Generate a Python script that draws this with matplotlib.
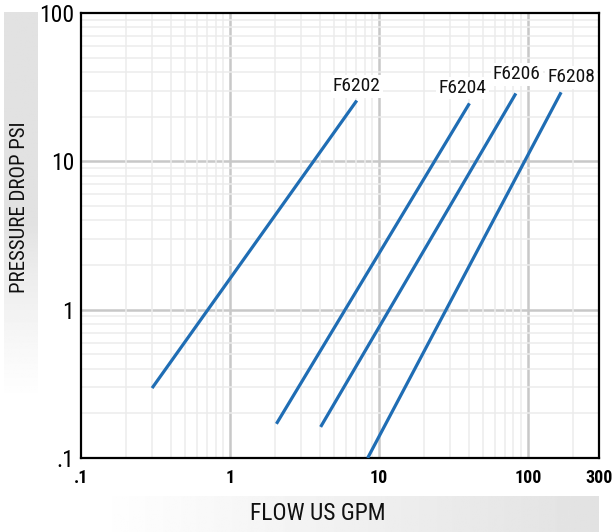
import numpy as np
import matplotlib.pyplot as plt
from matplotlib.ticker import LogLocator, NullFormatter

plt.rcParams['font.family'] = ['Roboto Condensed', 'DejaVu Sans']
plt.rcParams['font.stretch'] = 'condensed'

# series: flow (gpm) vs pressure drop (psi), end points
models = ["F6202", "F6204", "F6206", "F6208"]
flow_start = [0.30, 2.05, 4.06, 8.4]
flow_end = [7.1, 40.5, 83, 167]
psi_start = [0.296, 0.17, 0.162, 0.1]
psi_end = [25.7, 24.6, 28.7, 29.2]

# label positions (data coords)
label_x = [7.1, 36.4, 84, 195]
label_y = [32, 31.3, 38.5, 36.8]

x_ticks = [0.1, 1, 10, 100, 300]
x_tick_labels = [".1", "1", "10", "100", "300"]
y_ticks = [0.1, 1, 10, 100]
y_tick_labels = [".1", "1", "10", "100"]

LINE = "#1f6db4"

fig = plt.figure(figsize=(6.14, 5.32), dpi=100)

# gray gradient band behind y label
band_y = fig.add_axes([4/614, 1 - 400/532, 33/614, 388/532])
t = np.linspace(0, 1, 256)
grad = (0.885 + 0.115 * np.clip((t - 0.55) / 0.45, 0, 1) ** 0.8).reshape(-1, 1)
band_y.imshow(grad, cmap="gray", vmin=0, vmax=1, aspect="auto")
band_y.axis("off")

# gray gradient band behind x label
band_x = fig.add_axes([95/614, 0, 504/614, 36/532])
grad2 = (1.0 - 0.115 * t).reshape(1, -1)
band_x.imshow(grad2, cmap="gray", vmin=0, vmax=1, aspect="auto")
band_x.axis("off")

ax = fig.add_axes([81/614, 74/532, 518/614, 445/532])
ax.set_xscale("log")
ax.set_yscale("log")
ax.set_xlim(0.1, 300)
ax.set_ylim(0.1, 100)

for i in range(len(models)):
    ax.plot([flow_start[i], flow_end[i]], [psi_start[i], psi_end[i]],
            color=LINE, lw=2.3, solid_capstyle="butt", zorder=3)
    ax.text(label_x[i], label_y[i], models[i], ha="center", va="center",
            fontsize=14, color="#111111", zorder=4,
            bbox=dict(facecolor="white", edgecolor="none", pad=1.5))

ax.xaxis.set_minor_locator(LogLocator(base=10, subs=np.arange(2, 10), numticks=20))
ax.yaxis.set_minor_locator(LogLocator(base=10, subs=np.arange(2, 10), numticks=20))
ax.xaxis.set_minor_formatter(NullFormatter())
ax.yaxis.set_minor_formatter(NullFormatter())
ax.set_xticks(x_ticks)
ax.set_xticklabels(x_tick_labels, fontsize=13, fontweight="bold")
ax.set_yticks(y_ticks)
ax.set_yticklabels(y_tick_labels, fontsize=17)
ax.tick_params(which="both", length=0)
ax.tick_params(axis="x", pad=8)
ax.tick_params(axis="y", pad=5)

# grid: major lines only at decades, not at 300
ax.grid(False)
for v in [1, 10, 100]:
    ax.axvline(v, color="#c8c8c8", lw=1.8, zorder=1)
for v in [1, 10]:
    ax.axhline(v, color="#c8c8c8", lw=1.8, zorder=1)
ax.grid(which="minor", color="#ececec", lw=1.1, zorder=0)
for s in ax.spines.values():
    s.set_linewidth(1.6)
    s.set_color("black")

fig.text(20/614, 1 - 207/532, "PRESSURE DROP PSI", rotation=90, ha="center",
         va="center", fontsize=15, color="#111111")
fig.text(318/614, 1 - 514/532, "FLOW US GPM", ha="center", va="center",
         fontsize=17, color="#111111")

fig.savefig("out.png", dpi=100)
